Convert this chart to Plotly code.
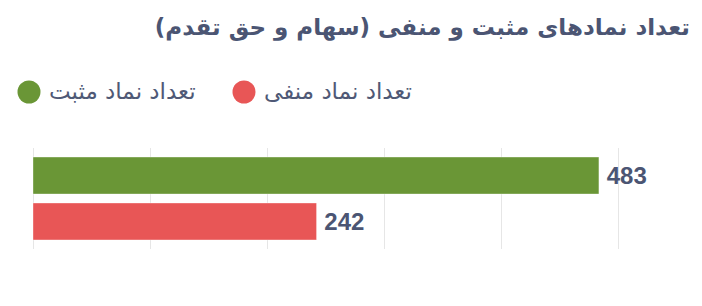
import plotly.graph_objects as go

title_text = "تعداد نمادهای مثبت و منفی (سهام و حق تقدم)"
category = ["نمادها"]
series_names = ["تعداد نماد منفی", "تعداد نماد مثبت"]
series_values = [[242], [483]]
series_colors = ["#e85656", "#6a9636"]
x_ticks = [0, 100, 200, 300, 400, 500]

W, H = 702, 306
L, R, T, B = 33, 82, 148, 57
pw, ph = W - L - R, H - T - B

def px_x(p):
    return (p - L) / pw

def px_y(p):
    return (H - B - p) / ph

fig = go.Figure()
for name, vals, col in zip(series_names, series_values, series_colors):
    fig.add_trace(go.Bar(
        y=category, x=vals, name=name, orientation="h",
        marker=dict(color=col, line=dict(color="rgba(255,255,255,0.35)", width=1)),
        text=["\u2009<b>" + str(v) + "</b>" for v in vals], textposition="outside",
        textfont=dict(family="Liberation Sans Narrow, Liberation Sans", size=24, color="#4b5573"),
        cliponaxis=False, showlegend=False, hoverinfo="x+name",
    ))

# manual legend (RTL order: first series on the right)
legend_pos = {"تعداد نماد منفی": 244, "تعداد نماد مثبت": 29}
shapes, annotations = [], []
for name, col in zip(series_names, series_colors):
    cx = legend_pos[name]
    shapes.append(dict(type="circle", xref="paper", yref="paper",
                       xsizemode="pixel", ysizemode="pixel",
                       xanchor=px_x(cx), yanchor=px_y(92),
                       x0=-11.5, x1=11.5, y0=-11.5, y1=11.5,
                       fillcolor=col, line=dict(width=0)))
    annotations.append(dict(text=name, xref="paper", yref="paper",
                            x=px_x(cx + 18), y=px_y(91), xanchor="left", yanchor="middle",
                            showarrow=False,
                            font=dict(family="DejaVu Sans", size=23, color="#4f5976")))

fig.update_layout(
    width=W, height=H,
    margin=dict(l=L, r=R, t=T, b=B),
    paper_bgcolor="white", plot_bgcolor="white",
    barmode="group", bargap=0.09, bargroupgap=0.196,
    title=dict(text="<b>" + title_text + "</b>", xref="container", yref="container",
               x=690 / W, xanchor="right", y=1 - 27 / H, yanchor="middle",
               font=dict(family="DejaVu Sans", size=23, color="#4b5573")),
    xaxis=dict(range=[0, 501], tickvals=x_ticks, showticklabels=False,
               showgrid=True, gridcolor="#e6e6e6", gridwidth=1,
               zeroline=True, zerolinecolor="#e6e6e6", zerolinewidth=1,
               showline=False, fixedrange=True),
    yaxis=dict(showticklabels=False, showgrid=False, zeroline=False, showline=False,
               fixedrange=True),
    shapes=shapes, annotations=annotations,
    showlegend=False,
)

fig.write_html("out.html")
